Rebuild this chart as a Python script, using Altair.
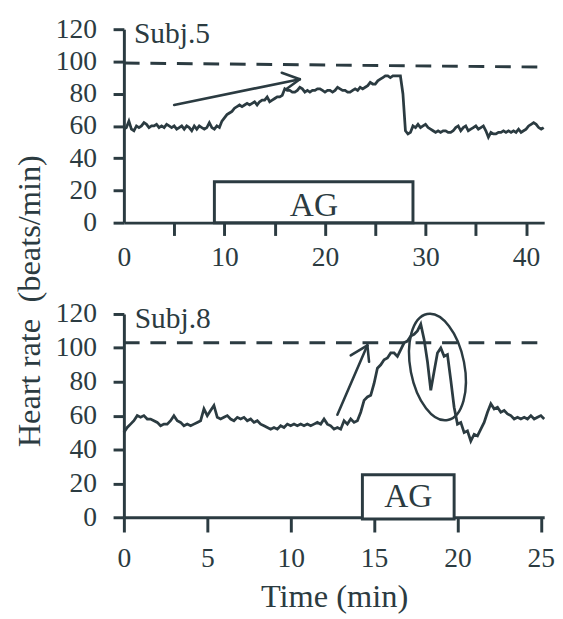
import altair as alt
import pandas as pd

FONT = "Liberation Serif"
INK = "#2b3b41"

# ---------------- data ----------------
# Subject 5: heart rate every 0.25 min
top_time = [round(i * 0.25, 2) for i in range(168)]
top_hr = [
    58, 59, 63, 58, 57, 60, 59, 60,
    62, 61, 59, 60, 60, 61, 59, 60,
    59, 61, 60, 59, 60, 58, 59, 60,
    58, 60, 59, 57, 60, 58, 60, 59,
    58, 59, 62, 59, 58, 60, 59, 63,
    65, 67, 68, 69, 71, 72, 73, 72,
    73, 74, 73, 74, 75, 73, 75, 76,
    76, 78, 75, 76, 77, 78, 78, 79,
    83, 82, 82, 81, 81, 82, 84, 83,
    81, 82, 81, 82, 82, 83, 83, 82,
    81, 82, 82, 81, 82, 84, 83, 82,
    82, 81, 81, 82, 83, 82, 84, 83,
    84, 85, 87, 86, 86, 88, 89, 90,
    91, 91, 90, 91, 91, 91, 91, 80,
    57, 55, 56, 60, 59, 61, 59, 60,
    61, 59, 58, 57, 56, 57, 56, 57,
    57, 56, 56, 57, 59, 60, 57, 59,
    60, 57, 58, 59, 60, 58, 59, 60,
    57, 53, 56, 55, 55, 56, 56, 57,
    56, 57, 56, 57, 56, 58, 56, 57,
    58, 60, 61, 62, 61, 59, 58, 59,
]

# Subject 8: heart rate every 0.2 min
bot_time = [round(i * 0.2, 1) for i in range(127)]
bot_hr = [
    50, 53, 55, 57, 60, 59, 60, 58, 58, 57,
    56, 54, 55, 55, 57, 60, 57, 56, 54, 55,
    54, 55, 56, 57, 64, 60, 63, 66, 59, 58,
    59, 60, 58, 57, 59, 58, 59, 57, 58, 56,
    57, 55, 54, 53, 52, 53, 52, 54, 53, 55,
    54, 55, 54, 55, 54, 55, 54, 55, 56, 55,
    58, 55, 54, 52, 53, 52, 57, 55, 58, 56,
    57, 62, 69, 71, 72, 79, 88, 90, 93, 94,
    97, 97, 95, 99, 103, 104, 107, 108, 110, 114,
    105, 92, 75, 86, 97, 100, 95, 96, 81, 65,
    55, 56, 50, 51, 45, 49, 48, 52, 56, 62,
    67, 64, 65, 62, 63, 61, 60, 58, 59, 58,
    59, 58, 60, 58, 59, 60, 58,
]

top_x_ticks = [0, 5, 10, 15, 20, 25, 30, 35, 40]
bot_x_ticks = [0, 5, 10, 15, 20, 25]
y_ticks = [0, 20, 40, 60, 80, 100, 120]

# annotations (data units)
top_dash = {"x": [0], "y": [99], "x2": [41.5], "y2": [96.5]}
bot_dash = {"x": [0], "y": [103], "x2": [25.2], "y2": [103]}
top_arrow = {"x": [5.0, 17.5, 17.5], "y": [73, 89, 89],
             "x2": [17.5, 15.7, 16.2], "y2": [89, 93, 83]}
bot_arrow = {"x": [12.8, 14.6, 14.6], "y": [60.5, 101.5, 101.5],
             "x2": [14.6, 13.6, 14.7], "y2": [101.5, 95.6, 91.8]}
top_box = {"x": [9.0], "x2": [28.75], "y": [0], "y2": [25.4]}
bot_box = {"x": [14.3], "x2": [19.8], "y": [-1], "y2": [25.1]}
top_labels = {"x": [18.9, 1.0], "y": [10.3, 116.7], "label": ["AG", "Subj.5"],
              "size": [34, 30], "align": ["center", "left"]}
bot_labels = {"x": [17.05, 0.65], "y": [11.6, 117], "label": ["AG", "Subj.8"],
              "size": [34, 30], "align": ["center", "left"]}
ellipse = {"x": [18.8], "y": [88.7]}

ELLIPSE_PATH = ("M 0 -1 C 0.276 -1 0.5 -0.552 0.5 0 C 0.5 0.552 0.276 1 0 1 "
                "C -0.276 1 -0.5 0.552 -0.5 0 C -0.5 -0.552 -0.276 -1 0 -1 Z")

W = 428
H_TOP = 197
H_BOT = 207


def panel(series_t, series_hr, xdom, xticks, minor, dash, arrow, box, labels,
          height, tick_x, pad_x, extra=None, xtitle=None):
    xs = alt.Scale(domain=xdom, nice=False, zero=False)
    ys = alt.Scale(domain=[0, 120], nice=False, zero=False)
    axis_kwargs = dict(values=xticks, tickSize=tick_x, labelPadding=pad_x,
                       labelOverlap=False, labelFlush=False)
    if minor:
        axis_kwargs["labelExpr"] = "datum.value % 10 === 0 ? datum.label : ''"
        axis_kwargs["tickOpacity"] = {"condition": {"test": "datum.value === 0", "value": 0}, "value": 1}
    if xtitle:
        axis_kwargs["title"] = xtitle
        axis_kwargs["titlePadding"] = 9
    else:
        axis_kwargs["title"] = None
    X = alt.X("x:Q", scale=xs, axis=alt.Axis(**axis_kwargs))
    Y = alt.Y("y:Q", scale=ys, axis=alt.Axis(values=y_ticks, tickSize=11, labelPadding=17,
                                             title=None, labelOverlap=False))

    df = pd.DataFrame({"x": series_t, "y": series_hr})
    box_l = alt.Chart(pd.DataFrame(box)).mark_rect(
        fill="white", stroke=INK, strokeWidth=3).encode(x=X, x2="x2:Q", y=Y, y2="y2:Q")
    line_l = alt.Chart(df).mark_line(color=INK, strokeWidth=2.8).encode(x=X, y=Y)
    dash_l = alt.Chart(pd.DataFrame(dash)).mark_rule(
        color=INK, strokeWidth=3, strokeDash=[16, 11]).encode(x=X, y=Y, x2="x2:Q", y2="y2:Q")
    arrow_l = alt.Chart(pd.DataFrame(arrow)).mark_rule(
        color=INK, strokeWidth=2.6, strokeCap="round").encode(x=X, y=Y, x2="x2:Q", y2="y2:Q")
    lab = pd.DataFrame(labels)
    text_layers = []
    for i in range(len(lab)):
        text_layers.append(
            alt.Chart(lab.iloc[[i]]).mark_text(
                font=FONT, fontSize=int(lab["size"][i]), color=INK,
                align=lab["align"][i], baseline="middle").encode(x=X, y=Y, text="label:N"))
    layers = [box_l, line_l, dash_l, arrow_l] + text_layers
    if extra is not None:
        layers += extra(X, Y)
    return alt.layer(*layers).properties(width=W, height=height)


def bottom_extra(X, Y):
    ell = alt.Chart(pd.DataFrame(ellipse)).mark_point(
        shape=ELLIPSE_PATH, size=12100, filled=False, color=INK, strokeWidth=2.5,
        opacity=1, angle=349).encode(x=X, y=Y)
    ytitle = alt.Chart(pd.DataFrame({"label": ["Heart rate\u00a0\u00a0(beats/min)"]})).mark_text(
        font=FONT, fontSize=33, color=INK, angle=270, align="center", baseline="middle"
    ).encode(x=alt.value(-95), y=alt.value(-13), text="label:N")
    return [ell, ytitle]


top = panel(top_time, top_hr, [0, 41.8], top_x_ticks, True, top_dash, top_arrow,
            top_box, top_labels, H_TOP, 13, 9)
bottom = panel(bot_time, bot_hr, [0, 25.2], bot_x_ticks, False, bot_dash, bot_arrow,
               bot_box, bot_labels, H_BOT, 15, 13, extra=bottom_extra, xtitle="Time (min)")

chart = alt.vconcat(top, bottom, spacing=93, bounds="flush").properties(
    padding={"left": 6, "top": 2, "right": 0, "bottom": 0}
).configure_view(strokeWidth=0).configure_axis(
    domainColor=INK, domainWidth=3, tickColor=INK, tickWidth=3,
    labelColor=INK, labelFont=FONT, labelFontSize=28,
    titleColor=INK, titleFont=FONT, titleFontSize=33, titleFontWeight="normal",
    grid=False,
)

chart.save("out.html", embed_options={"renderer": "svg", "actions": False})
